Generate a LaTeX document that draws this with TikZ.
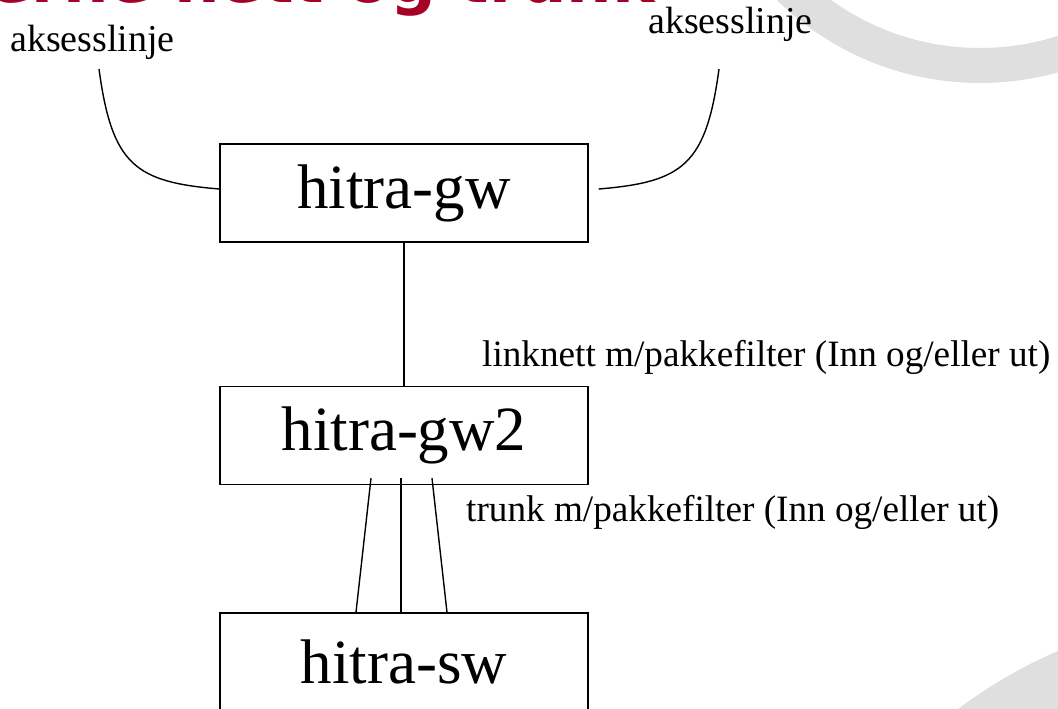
\documentclass[tikz,border=0pt]{standalone}
\usepackage{fontspec}
\setmainfont{Liberation Serif}
\newfontfamily\titlefont{DejaVu Sans}
\definecolor{titlered}{RGB}{165,0,38}
\definecolor{bggrey}{RGB}{223,223,223}
\begin{document}
\begin{tikzpicture}[x=1pt,y=-1pt,
  box/.style={draw, line width=1.4pt, minimum width=368pt, minimum height=98pt, inner sep=0pt, font=\fontsize{63}{70}\selectfont},
  conn/.style={line width=1.4pt},
  trunkmain/.style={line width=2.8pt},
  lbl/.style={inner sep=0pt, anchor=west, font=\fontsize{38}{44}\selectfont},
  smalllbl/.style={inner sep=0pt, anchor=west, font=\fontsize{37.2}{43}\selectfont}]
\useasboundingbox (0,0) rectangle (1058,709);
\clip (0,0) rectangle (1058,709);
% background decoration
\fill[bggrey, even odd rule] (980,-207) circle[radius=290pt] (980,-207) circle[radius=255pt];
\fill[bggrey] (1256,1108) circle[radius=498pt];
% clipped title
\node[anchor=base east, inner sep=0pt, text=titlered, font=\titlefont\bfseries\fontsize{64}{70}\selectfont] (title) at (655,3) {Interne nett og trunk};
% boxes
\node[box] (gw) at (404,193) {hitra-gw};
\node[box] (gw2) at (404,435.5) {hitra-gw2};
\node[box] (sw) at (404,662) {hitra-sw};
% labels
\node[lbl] (al) at (10,42) {aksesslinje};
\node[lbl] (ar) at (648,24) {aksesslinje};
\node[smalllbl] (ln) at (482,357) {linknett m/pakkefilter (Inn og/eller ut)};
\node[smalllbl] (tr) at (466,512) {trunk m/pakkefilter (Inn og/eller ut)};
% access lines
\coordinate (la) at (99,69);
\coordinate (ra) at (719,69);
\draw[conn] (la) .. controls (112,165) and (135,182) .. ([yshift=4pt]gw.west);
\draw[conn] (ra) .. controls (706,165) and (683,182) .. ([xshift=10pt,yshift=4pt]gw.east);
% link net
\draw[conn] (gw.south) -- (gw2.north);
% trunk
\draw[conn] ([xshift=-33pt,yshift=7pt]gw2.south) -- ([xshift=-48pt]sw.north);
\draw[trunkmain] ([xshift=-3pt,yshift=7pt]gw2.south) -- ([xshift=-3pt]sw.north);
\draw[conn] ([xshift=28pt,yshift=7pt]gw2.south) -- ([xshift=43pt]sw.north);
\end{tikzpicture}
\end{document}
